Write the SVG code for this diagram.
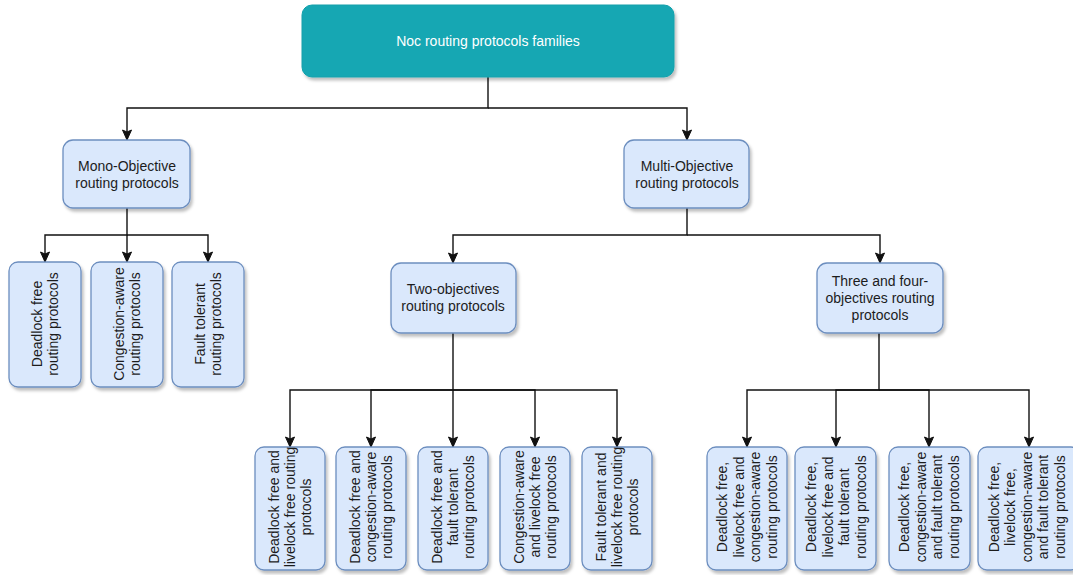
<svg xmlns="http://www.w3.org/2000/svg" width="1073" height="575" viewBox="0 0 1073 575">
<defs>
<style>
.box{fill:#dae8fc;stroke:#6c8ebf;stroke-width:1.3;filter:url(#sh)}
.top{fill:#13a7b3;stroke:#12a0ab;stroke-width:1;filter:url(#sh)}
.t{font-family:"Liberation Sans",Arial,sans-serif;font-size:14px;fill:#1c1c1c;text-anchor:middle}
.tw{font-family:"Liberation Sans",Arial,sans-serif;font-size:14px;fill:#ffffff;text-anchor:middle}
.c{fill:none;stroke:#111;stroke-width:1.4}
</style>
<filter id="sh" x="-10%" y="-10%" width="130%" height="130%">
<feDropShadow dx="2" dy="3" stdDeviation="1.5" flood-color="#000" flood-opacity="0.25"/>
</filter>
<marker id="ar" markerUnits="userSpaceOnUse" markerWidth="12" markerHeight="12" viewBox="0 0 12 12" refX="11" refY="6" orient="auto">
<path d="M1,1.5 L11,6 L1,10.5 L3,6 z" fill="#111" stroke="#111" stroke-width="1"/>
</marker>
</defs>
<rect width="1073" height="575" fill="#ffffff"/>

<g id="connectors">
<path class="c" d="M488 77 V108 H127 V140" marker-end="url(#ar)"/>
<path class="c" d="M488 108 H687 V140" marker-end="url(#ar)"/>
<path class="c" d="M127 208 V235 H45 V262" marker-end="url(#ar)"/>
<path class="c" d="M127 235 V262" marker-end="url(#ar)"/>
<path class="c" d="M127 235 H208 V262" marker-end="url(#ar)"/>
<path class="c" d="M687 208 V235 H453 V263" marker-end="url(#ar)"/>
<path class="c" d="M687 235 H880 V263" marker-end="url(#ar)"/>
<path class="c" d="M453 333 V390 H290 V447" marker-end="url(#ar)"/>
<path class="c" d="M453 390 H371 V447" marker-end="url(#ar)"/>
<path class="c" d="M453 390 V447" marker-end="url(#ar)"/>
<path class="c" d="M453 390 H535 V447" marker-end="url(#ar)"/>
<path class="c" d="M453 390 H617 V447" marker-end="url(#ar)"/>
<path class="c" d="M879 333 V390 H747 V447" marker-end="url(#ar)"/>
<path class="c" d="M879 390 H836 V447" marker-end="url(#ar)"/>
<path class="c" d="M879 390 H929 V447" marker-end="url(#ar)"/>
<path class="c" d="M879 390 H1029 V447" marker-end="url(#ar)"/>
</g>

<g id="root">
<rect class="top" x="302" y="5" width="372" height="72" rx="10"/>
<text class="tw" x="488" y="46">Noc routing protocols families</text>
</g>

<g id="mono">
<rect class="box" x="63" y="140" width="127" height="68" rx="10"/>
<text class="t" x="127" y="171">Mono-Objective</text>
<text class="t" x="127" y="188">routing protocols</text>
</g>

<g id="multi">
<rect class="box" x="624" y="140" width="125" height="68" rx="10"/>
<text class="t" x="687" y="171">Multi-Objective</text>
<text class="t" x="687" y="188">routing protocols</text>
</g>

<g id="mono-deadlock">
<rect class="box" x="9" y="262" width="72" height="125" rx="9"/>
<text class="t" transform="translate(45,324) rotate(-90)"><tspan x="0" y="-3">Deadlock free</tspan><tspan x="0" y="13">routing protocols</tspan></text>
</g>
<g id="mono-congestion">
<rect class="box" x="91" y="262" width="72" height="125" rx="9"/>
<text class="t" transform="translate(127,324) rotate(-90)"><tspan x="0" y="-3">Congestion-aware</tspan><tspan x="0" y="13">routing protocols</tspan></text>
</g>
<g id="mono-fault">
<rect class="box" x="172" y="262" width="72" height="125" rx="9"/>
<text class="t" transform="translate(208,324) rotate(-90)"><tspan x="0" y="-3">Fault tolerant</tspan><tspan x="0" y="13">routing protocols</tspan></text>
</g>

<g id="two">
<rect class="box" x="391" y="263" width="125" height="70" rx="10"/>
<text class="t" x="453" y="294">Two-objectives</text>
<text class="t" x="453" y="311">routing protocols</text>
</g>

<g id="three">
<rect class="box" x="817" y="263" width="126" height="70" rx="10"/>
<text class="t" x="880" y="286">Three and four-</text>
<text class="t" x="880" y="303">objectives routing</text>
<text class="t" x="880" y="320">protocols</text>
</g>

<g id="two-1">
<rect class="box" x="255" y="447" width="70" height="123" rx="9"/>
<text class="t" transform="translate(290,507) rotate(-90)"><tspan x="0" y="-11">Deadlock free and</tspan><tspan x="0" y="5">livelock free routing</tspan><tspan x="0" y="21">protocols</tspan></text>
</g>
<g id="two-2">
<rect class="box" x="336" y="447" width="70" height="123" rx="9"/>
<text class="t" transform="translate(371,507) rotate(-90)"><tspan x="0" y="-11">Deadlock free and</tspan><tspan x="0" y="5">congestion-aware</tspan><tspan x="0" y="21">routing protocols</tspan></text>
</g>
<g id="two-3">
<rect class="box" x="418" y="447" width="70" height="123" rx="9"/>
<text class="t" transform="translate(453,507) rotate(-90)"><tspan x="0" y="-11">Deadlock free and</tspan><tspan x="0" y="5">fault tolerant</tspan><tspan x="0" y="21">routing protocols</tspan></text>
</g>
<g id="two-4">
<rect class="box" x="500" y="447" width="70" height="123" rx="9"/>
<text class="t" transform="translate(535,507) rotate(-90)"><tspan x="0" y="-11">Congestion-aware</tspan><tspan x="0" y="5">and livelock free</tspan><tspan x="0" y="21">routing protocols</tspan></text>
</g>
<g id="two-5">
<rect class="box" x="582" y="447" width="70" height="123" rx="9"/>
<text class="t" transform="translate(617,507) rotate(-90)"><tspan x="0" y="-11">Fault tolerant and</tspan><tspan x="0" y="5">livelock free routing</tspan><tspan x="0" y="21">protocols</tspan></text>
</g>

<g id="three-1">
<rect class="box" x="707" y="447" width="80" height="123" rx="9"/>
<text class="t" transform="translate(747,507) rotate(-90)"><tspan x="0" y="-20">Deadlock free,</tspan><tspan x="0" y="-3">livelock free and</tspan><tspan x="0" y="13">congestion-aware</tspan><tspan x="0" y="30">routing protocols</tspan></text>
</g>
<g id="three-2">
<rect class="box" x="795" y="447" width="81" height="123" rx="9"/>
<text class="t" transform="translate(836,507) rotate(-90)"><tspan x="0" y="-20">Deadlock free,</tspan><tspan x="0" y="-3">livelock free and</tspan><tspan x="0" y="13">fault tolerant</tspan><tspan x="0" y="30">routing protocols</tspan></text>
</g>
<g id="three-3">
<rect class="box" x="889" y="447" width="81" height="123" rx="9"/>
<text class="t" transform="translate(929,507) rotate(-90)"><tspan x="0" y="-20">Deadlock free,</tspan><tspan x="0" y="-3">congestion-aware</tspan><tspan x="0" y="13">and fault tolerant</tspan><tspan x="0" y="30">routing protocols</tspan></text>
</g>
<g id="three-4">
<rect class="box" x="978" y="447" width="102" height="123" rx="9"/>
<text class="t" transform="translate(1027,507) rotate(-90)"><tspan x="0" y="-28">Deadlock free,</tspan><tspan x="0" y="-12">livelock free,</tspan><tspan x="0" y="5">congestion-aware</tspan><tspan x="0" y="21">and fault tolerant</tspan><tspan x="0" y="38">routing protocols</tspan></text>
</g>
</svg>
